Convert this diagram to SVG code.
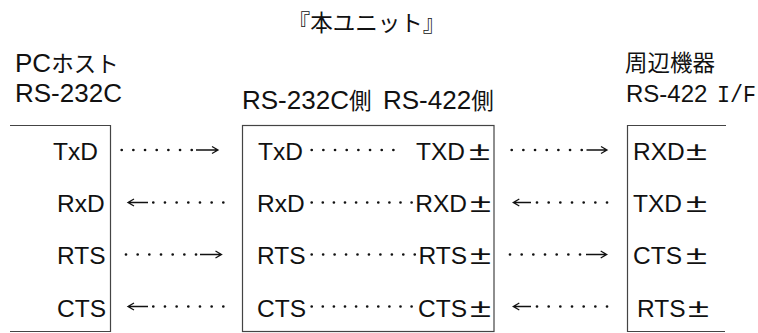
<svg xmlns="http://www.w3.org/2000/svg" width="758" height="333" viewBox="0 0 758 333">
<style>
  text { font-family: "Liberation Sans", "Noto Sans CJK JP", sans-serif; fill: #111; }
  .h { font-size: 26px; }
  .j { font-size: 22.5px; }
  .lab { font-size: 24.5px; }
  .pm { font-size: 25px; }
  .box { fill: none; stroke: #444; stroke-width: 1.2; }
  .dots { fill: none; stroke: #111; stroke-width: 2.7; stroke-linecap: round; }
  .arr { fill: none; stroke: #111; stroke-width: 1.3; }
</style>
<rect width="758" height="333" fill="#fff"/>

<g id="title">
  <text class="j" x="366.5" y="31" text-anchor="middle" font-size="24.5">『本ユニット』</text>
</g>

<g id="pc-host">
  <text class="h" x="15" y="72">PC<tspan class="j">ホスト</tspan></text>
  <text class="h" x="15" y="102">RS-232C</text>
  <path class="box" d="M10 125.5 H110.5 V331.5 H10"/>
  <text class="lab" x="53" y="159.5">TxD</text>
  <text class="lab" x="57" y="212">RxD</text>
  <text class="lab" x="57" y="264">RTS</text>
  <text class="lab" x="57" y="316.5">CTS</text>
</g>

<g id="unit">
  <text class="h" x="242" y="108.5">RS-232C<tspan class="j">側</tspan></text>
  <text class="h" x="383" y="108.5">RS-422<tspan class="j">側</tspan></text>
  <rect class="box" x="242.5" y="125.5" width="251.5" height="206"/>
  <text class="lab" x="258" y="159.5">TxD</text>
  <text class="lab" x="257" y="212">RxD</text>
  <text class="lab" x="257" y="264">RTS</text>
  <text class="lab" x="257" y="316.5">CTS</text>
  <text class="lab" x="465" y="159.5" text-anchor="end">TXD</text>
  <text class="lab" x="467" y="212" text-anchor="end">RXD</text>
  <text class="lab" x="467" y="264" text-anchor="end">RTS</text>
  <text class="lab" x="467" y="316.5" text-anchor="end">CTS</text>
  <text class="pm" x="469" y="159.5" textLength="21" lengthAdjust="spacingAndGlyphs">±</text>
  <text class="pm" x="470" y="212" textLength="21" lengthAdjust="spacingAndGlyphs">±</text>
  <text class="pm" x="470" y="264" textLength="21" lengthAdjust="spacingAndGlyphs">±</text>
  <text class="pm" x="470" y="316.5" textLength="21" lengthAdjust="spacingAndGlyphs">±</text>
</g>

<g id="peripheral">
  <text class="j" x="625" y="71">周辺機器</text>
  <text x="626" y="102" font-size="24">RS-422<tspan x="717" font-family="Liberation Mono, monospace" font-size="23" textLength="39" lengthAdjust="spacingAndGlyphs">I/F</tspan></text>
  <path class="box" d="M726 125.5 H627.5 V331.5 H725"/>
  <text class="lab" x="633" y="159.5">RXD</text>
  <text class="lab" x="633" y="212">TXD</text>
  <text class="lab" x="633" y="264">CTS</text>
  <text class="lab" x="637" y="316.5">RTS</text>
  <text class="pm" x="686" y="159.5" textLength="21" lengthAdjust="spacingAndGlyphs">±</text>
  <text class="pm" x="686" y="212" textLength="21" lengthAdjust="spacingAndGlyphs">±</text>
  <text class="pm" x="686" y="264" textLength="21" lengthAdjust="spacingAndGlyphs">±</text>
  <text class="pm" x="688" y="316.5" textLength="21" lengthAdjust="spacingAndGlyphs">±</text>
</g>

<g id="connectors">
  <!-- PC host <-> unit -->
  <path class="dots" d="M121.7 150 H191.8" stroke-dasharray="0 11.67"/>
  <path class="arr" d="M196 150 H218 M212 146.5 L218 150 L212 153.5"/>
  <path class="arr" d="M128 202.5 H148 M134 199 L128 202.5 L134 206"/>
  <path class="dots" d="M153.3 202.5 H223.4" stroke-dasharray="0 11.67"/>
  <path class="dots" d="M126 254.5 H196.1" stroke-dasharray="0 11.67"/>
  <path class="arr" d="M200 254.5 H221.5 M215.5 251 L221.5 254.5 L215.5 258"/>
  <path class="arr" d="M128 306.5 H148 M134 303 L128 306.5 L134 310"/>
  <path class="dots" d="M153.3 306.5 H223.4" stroke-dasharray="0 11.67"/>
  <!-- unit internal -->
  <path class="dots" d="M311.7 150 H393.5" stroke-dasharray="0 11.67"/>
  <path class="dots" d="M311.7 202.5 H411.8" stroke-dasharray="0 11.1"/>
  <path class="dots" d="M311.7 254.5 H414.8" stroke-dasharray="0 11.45"/>
  <path class="dots" d="M311.7 306.5 H411.8" stroke-dasharray="0 11.1"/>
  <!-- unit <-> peripheral -->
  <path class="dots" d="M511.7 150 H581.8" stroke-dasharray="0 11.67"/>
  <path class="arr" d="M586.5 150 H607 M601 146.5 L607 150 L601 153.5"/>
  <path class="arr" d="M513.3 202.5 H531 M519.3 199 L513.3 202.5 L519.3 206"/>
  <path class="dots" d="M537 202.5 H607.1" stroke-dasharray="0 11.67"/>
  <path class="dots" d="M510 254.5 H580.1" stroke-dasharray="0 11.67"/>
  <path class="arr" d="M586 254.5 H606.7 M600.7 251 L606.7 254.5 L600.7 258"/>
  <path class="arr" d="M513.3 306.5 H531 M519.3 303 L513.3 306.5 L519.3 310"/>
  <path class="dots" d="M537 306.5 H607.1" stroke-dasharray="0 11.67"/>
</g>
</svg>
